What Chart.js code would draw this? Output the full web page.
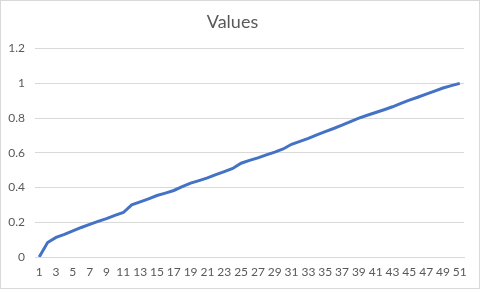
<!DOCTYPE html>
<html>
<head>
  <meta charset="utf-8">
  <title>Values</title>
  <script src="https://cdn.jsdelivr.net/npm/chart.js@4.4.0/dist/chart.umd.min.js"></script>
  <style>
    body { margin: 0; background: #fff; }
    .chart-box {
      width: 480px;
      height: 289px;
      box-sizing: border-box;
      border: 1px solid #d9d9d9;
    }
  </style>
</head>
<body>
  <div class="chart-box">
    <canvas id="valuesChart" width="478" height="287"></canvas>
  </div>
  <script>
    const categories = [
      1, 2, 3, 4, 5, 6, 7, 8, 9, 10, 11, 12, 13, 14, 15, 16, 17, 18, 19, 20,
      21, 22, 23, 24, 25, 26, 27, 28, 29, 30, 31, 32, 33, 34, 35, 36, 37, 38, 39, 40,
      41, 42, 43, 44, 45, 46, 47, 48, 49, 50, 51
    ];
    const values = [
      0, 0.083, 0.113, 0.13, 0.15, 0.17, 0.188, 0.205, 0.221, 0.24,
      0.256, 0.30, 0.317, 0.335, 0.354, 0.368, 0.383, 0.405, 0.425, 0.44,
      0.456, 0.474, 0.492, 0.51, 0.54, 0.556, 0.571, 0.588, 0.604, 0.622,
      0.649, 0.666, 0.683, 0.703, 0.722, 0.74, 0.759, 0.78, 0.80, 0.816,
      0.832, 0.848, 0.865, 0.885, 0.903, 0.92, 0.938, 0.955, 0.973, 0.987,
      1.0
    ];
    const yTicks = [0, 0.2, 0.4, 0.6, 0.8, 1, 1.2];

    const textColor = '#595959';
    const gridColor = '#d9d9d9';

    new Chart(document.getElementById('valuesChart'), {
      type: 'line',
      data: {
        labels: categories,
        datasets: [{
          label: 'Values',
          data: values,
          borderColor: '#4472c4',
          borderWidth: 3,
          pointRadius: 0,
          tension: 0,
          fill: false
        }]
      },
      options: {
        responsive: false,
        animation: false,
        layout: { padding: { left: 0, right: 15, top: 0, bottom: 0 } },
        plugins: {
          legend: { display: false },
          tooltip: { enabled: false },
          title: {
            display: true,
            text: 'Values',
            color: textColor,
            font: { family: 'Lato', size: 18, weight: 'normal' },
            padding: { top: 10, bottom: 16 }
          }
        },
        scales: {
          x: {
            offset: true,
            grid: { display: false, drawTicks: false },
            border: { display: true, color: gridColor, width: 1 },
            ticks: {
              color: textColor,
              font: { family: 'Lato', size: 12 },
              autoSkip: false,
              maxRotation: 0,
              padding: 8,
              callback: function (v, i) { return i % 2 === 0 ? categories[i] : ''; }
            },
            afterFit: function (scale) { scale.height = 31; }
          },
          y: {
            min: 0,
            max: 1.2,
            afterBuildTicks: function (scale) {
              scale.ticks = yTicks.map(function (v) { return { value: v }; });
            },
            grid: { color: gridColor, drawTicks: false },
            border: { display: false },
            ticks: {
              color: textColor,
              font: { family: 'Lato', size: 12 },
              padding: 10,
              callback: function (v) { return String(Math.round(v * 10) / 10); }
            },
            afterFit: function (scale) { scale.width = 34; }
          }
        }
      }
    });
  </script>
</body>
</html>
